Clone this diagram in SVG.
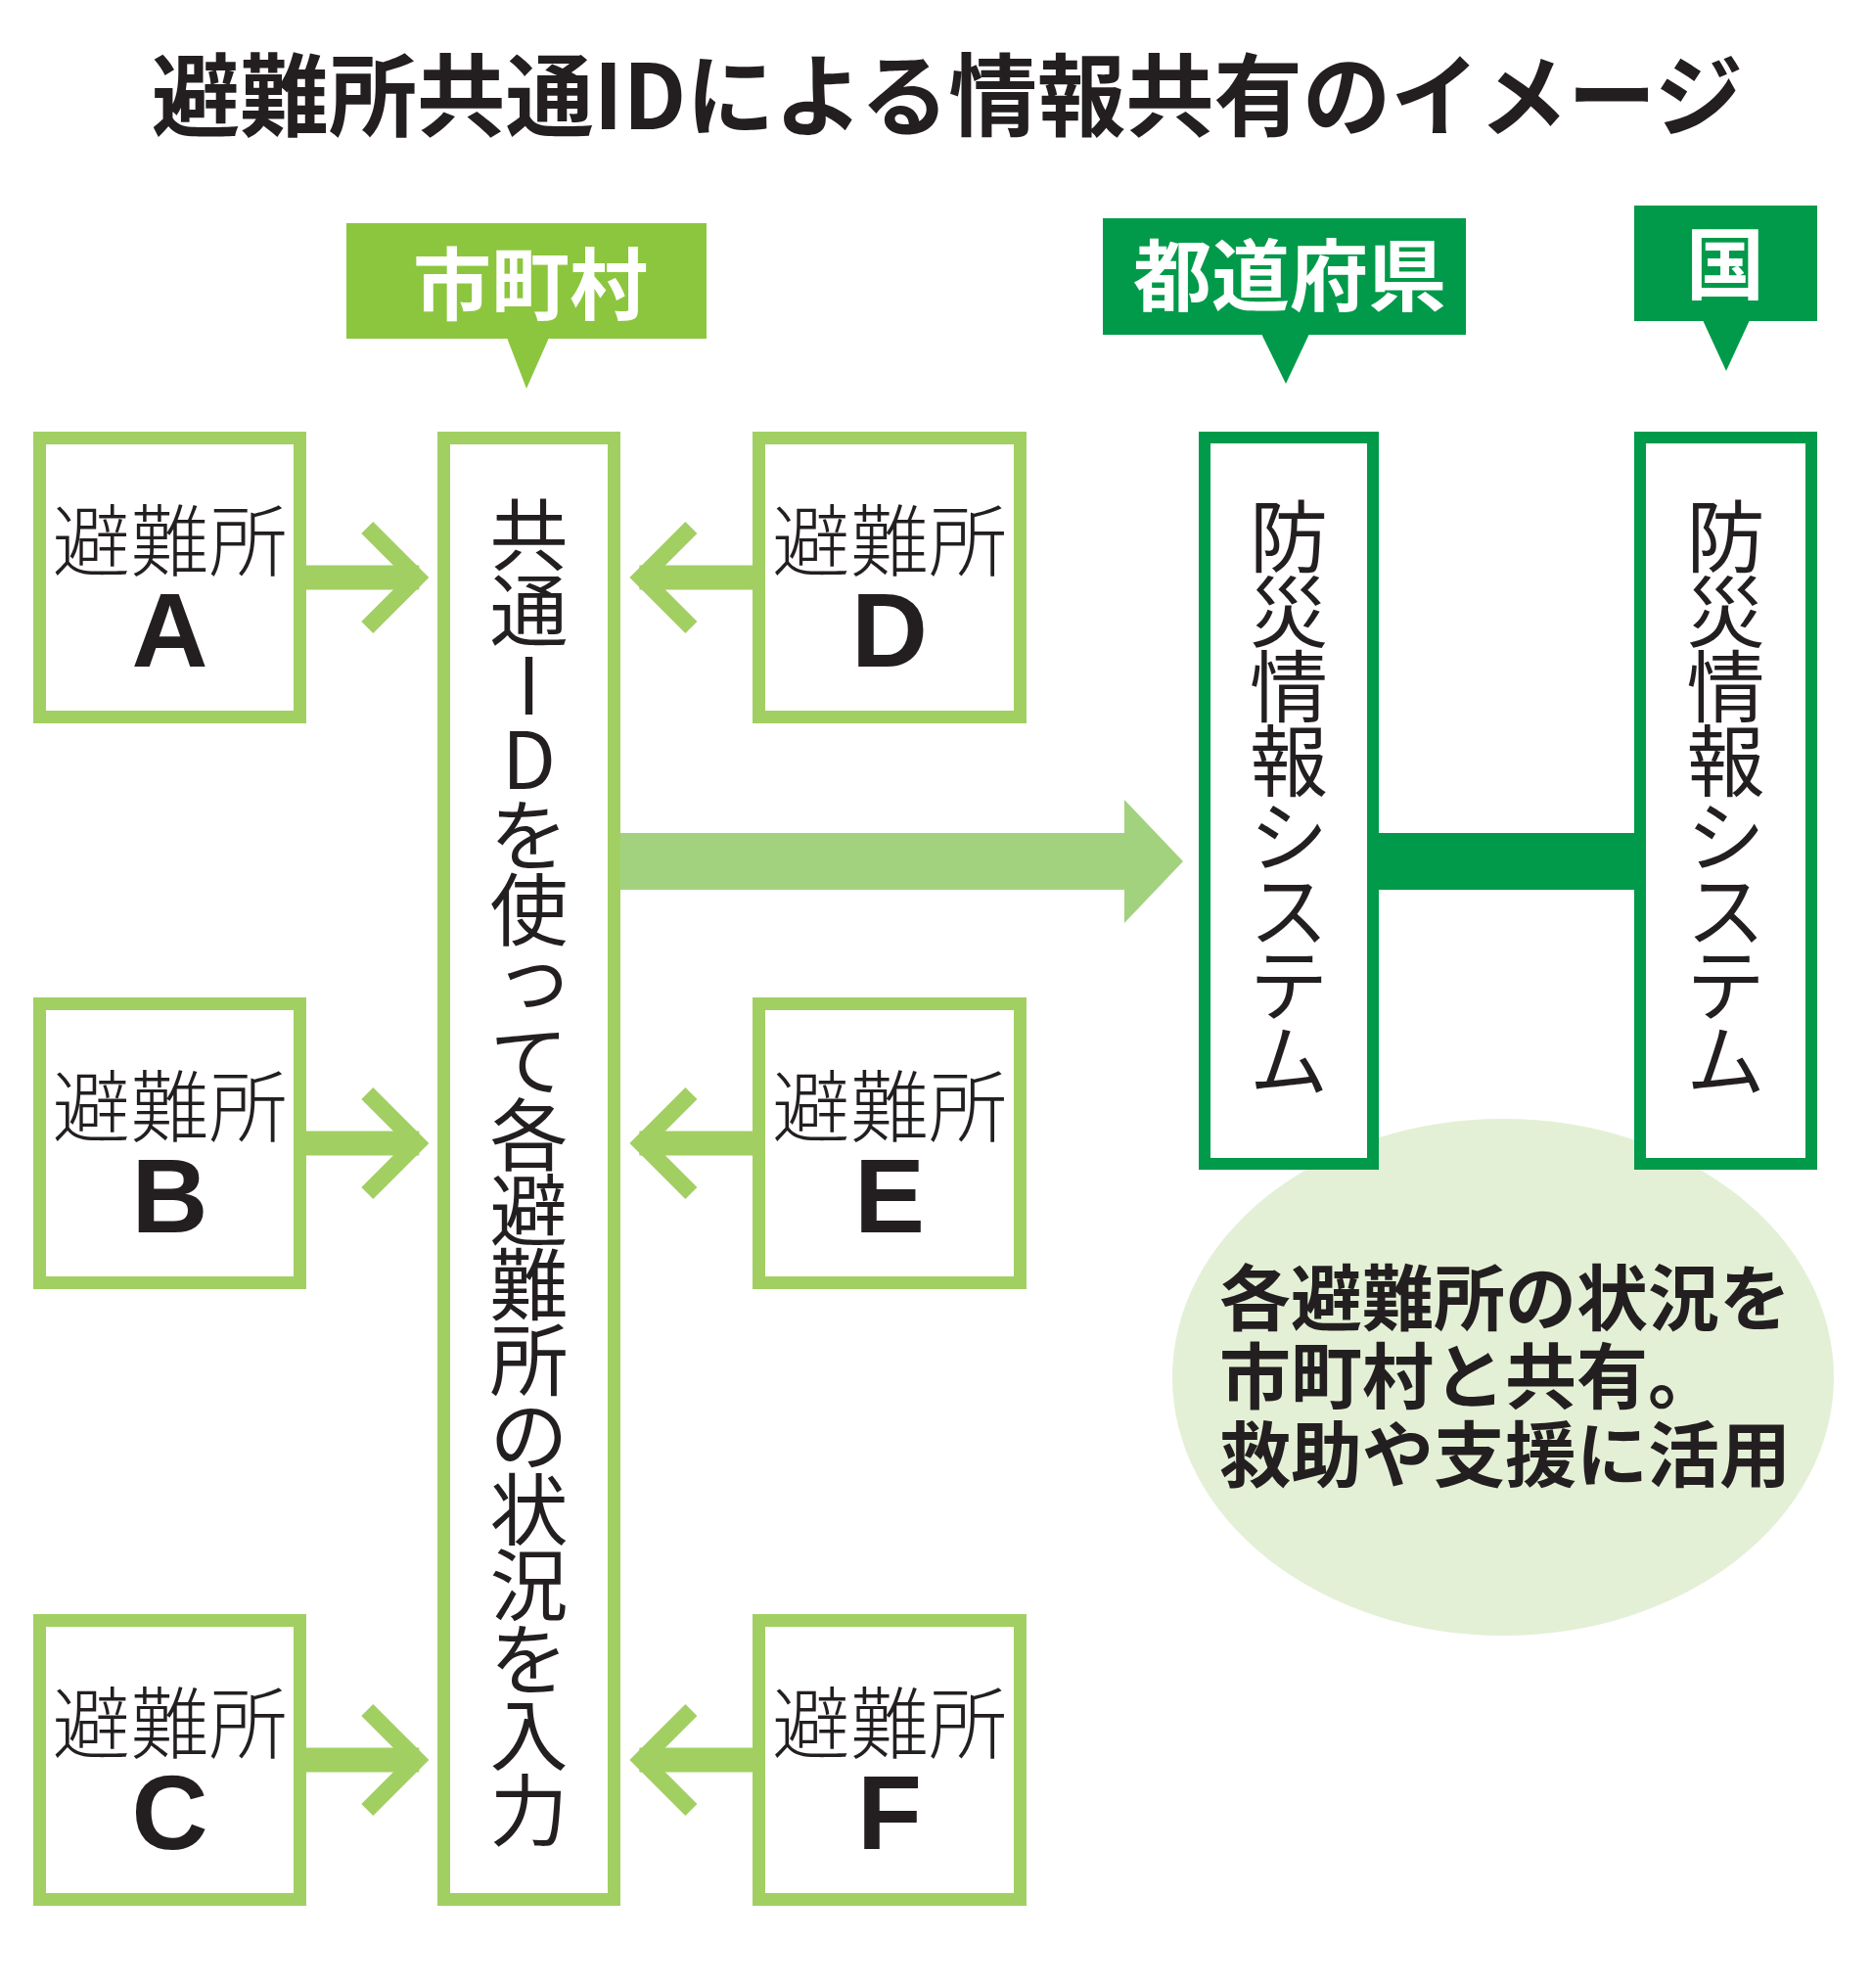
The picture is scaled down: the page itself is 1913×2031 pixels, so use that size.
<svg xmlns="http://www.w3.org/2000/svg" xmlns:xlink="http://www.w3.org/1999/xlink" width="1913" height="2031" viewBox="0 0 1913 2031">
<style>
.bg{fill:#ffffff}
.lbox{fill:#ffffff;stroke:#a2cf62;stroke-width:13}
.sbox{fill:#ffffff;stroke:#009a4a;stroke-width:12}
.lg{fill:#8cc63f}
.dg{fill:#009a4a}
.cj{font-family:'Noto Sans CJK JP','Noto Sans',sans-serif;fill:#231f20}
.lbl{font-family:'Noto Sans CJK JP','Noto Sans',sans-serif;font-weight:700;font-size:80px;fill:#ffffff;text-anchor:middle}
.shel{font-family:'Noto Sans CJK JP','Noto Sans',sans-serif;font-weight:300;font-size:80px;fill:#231f20;text-anchor:middle}
.let{font-family:'Liberation Sans',Arial,sans-serif;font-weight:700;font-size:108px;fill:#231f20;text-anchor:middle}
.vt{font-family:'Noto Sans CJK JP','Noto Sans',sans-serif;font-weight:400;font-size:80px;fill:#231f20;text-anchor:middle}
.note{font-family:'Noto Sans CJK JP','Noto Sans',serif;font-weight:700;font-size:73px;fill:#231f20}
.arw{fill:none;stroke:#a2cf62;stroke-width:17;stroke-linejoin:miter;stroke-miterlimit:10}
.arwf{fill:#a2cf62}
</style>
<defs>
<g id="arrowR">
<rect class="arwf" x="-114" y="-12.5" width="116" height="25"/>
<polyline class="arw" points="-51,-51 0,0 -51,51"/>
</g>
<g id="arrowL">
<rect class="arwf" x="-2" y="-12.5" width="116" height="25"/>
<polyline class="arw" points="51,-51 0,0 51,51"/>
</g>
</defs>
<rect class="bg" x="0" y="0" width="1913" height="2031"/>

<g id="title">
<text class="cj" x="155" y="132" font-size="92" font-weight="700" textLength="1626" lengthAdjust="spacingAndGlyphs">避難所共通IDによる情報共有のイメージ</text>
</g>

<g id="note">
<ellipse cx="1536" cy="1407" rx="338" ry="264" fill="#e3f0d6"/>
<text class="note"><tspan x="1246" y="1353">各避難所の状況を</tspan><tspan x="1246" y="1433">市町村と共有。</tspan><tspan x="1246" y="1513">救助や支援に活用</tspan></text>
</g>

<g id="connectors">
<use xlink:href="#arrowR" x="426.3" y="590"/>
<use xlink:href="#arrowR" x="426.3" y="1168"/>
<use xlink:href="#arrowR" x="426.3" y="1798"/>
<use xlink:href="#arrowL" x="655.4" y="590"/>
<use xlink:href="#arrowL" x="655.4" y="1168"/>
<use xlink:href="#arrowL" x="655.4" y="1798"/>
<polygon fill="#a3d27e" points="634,851 1149,851 1149,817 1209,880 1149,943 1149,909 634,909"/>
<rect class="dg" x="1409" y="851" width="261" height="58"/>
</g>

<g id="label-shichoson">
<rect class="lg" x="354" y="228" width="368" height="118"/>
<polygon class="lg" points="518,345 561,345 538,397"/>
<text class="lbl" x="542" y="320">市町村</text>
</g>
<g id="label-todofuken">
<rect class="dg" x="1127" y="223" width="371" height="119"/>
<polygon class="dg" points="1289,341 1338,341 1314,392"/>
<text class="lbl" x="1318" y="311">都道府県</text>
</g>
<g id="label-kuni">
<rect class="dg" x="1670" y="210" width="187" height="118"/>
<polygon class="dg" points="1740,327 1788,327 1764,379"/>
<text class="lbl" x="1763" y="299">国</text>
</g>

<g id="shelter-A">
<rect class="lbox" x="40.5" y="447.5" width="266" height="285"/>
<text class="shel" x="173.5" y="582">避難所</text>
<text class="let" x="173.5" y="681">A</text>
</g>
<g id="shelter-B">
<rect class="lbox" x="40.5" y="1025.5" width="266" height="285"/>
<text class="shel" x="173.5" y="1160">避難所</text>
<text class="let" x="173.5" y="1259">B</text>
</g>
<g id="shelter-C">
<rect class="lbox" x="40.5" y="1655.5" width="266" height="285"/>
<text class="shel" x="173.5" y="1790">避難所</text>
<text class="let" x="173.5" y="1889">C</text>
</g>
<g id="shelter-D">
<rect class="lbox" x="775.5" y="447.5" width="267" height="285"/>
<text class="shel" x="909" y="582">避難所</text>
<text class="let" x="909" y="681">D</text>
</g>
<g id="shelter-E">
<rect class="lbox" x="775.5" y="1025.5" width="267" height="285"/>
<text class="shel" x="909" y="1160">避難所</text>
<text class="let" x="909" y="1259">E</text>
</g>
<g id="shelter-F">
<rect class="lbox" x="775.5" y="1655.5" width="267" height="285"/>
<text class="shel" x="909" y="1790">避難所</text>
<text class="let" x="909" y="1889">F</text>
</g>

<g id="common-id">
<rect class="lbox" x="453.5" y="447.5" width="174" height="1493"/>
<text class="vt"><tspan x="540.5" y="576.4">共</tspan><tspan x="540.5" y="653">通</tspan><tspan x="540.5" y="729.6">I</tspan><tspan x="540.5" y="806.2">D</tspan><tspan x="540.5" y="882.8">を</tspan><tspan x="540.5" y="959.4">使</tspan><tspan x="546" y="1026">っ</tspan><tspan x="540.5" y="1112.6">て</tspan><tspan x="540.5" y="1189.2">各</tspan><tspan x="540.5" y="1265.8">避</tspan><tspan x="540.5" y="1342.4">難</tspan><tspan x="540.5" y="1419">所</tspan><tspan x="540.5" y="1495.6">の</tspan><tspan x="540.5" y="1572.2">状</tspan><tspan x="540.5" y="1648.8">況</tspan><tspan x="540.5" y="1725.4">を</tspan><tspan x="540.5" y="1802">入</tspan><tspan x="540.5" y="1878.6">力</tspan></text>
</g>

<g id="system-pref">
<rect class="sbox" x="1231" y="447" width="172" height="742"/>
<text class="vt"><tspan x="1317" y="578.4">防</tspan><tspan x="1317" y="654.7">災</tspan><tspan x="1317" y="731">情</tspan><tspan x="1317" y="807.3">報</tspan><tspan x="1317" y="883.6">シ</tspan><tspan x="1317" y="959.9">ス</tspan><tspan x="1317" y="1036.2">テ</tspan><tspan x="1317" y="1112.5">ム</tspan></text>
</g>
<g id="system-kuni">
<rect class="sbox" x="1676" y="447" width="175" height="742"/>
<text class="vt"><tspan x="1763.5" y="578.4">防</tspan><tspan x="1763.5" y="654.7">災</tspan><tspan x="1763.5" y="731">情</tspan><tspan x="1763.5" y="807.3">報</tspan><tspan x="1763.5" y="883.6">シ</tspan><tspan x="1763.5" y="959.9">ス</tspan><tspan x="1763.5" y="1036.2">テ</tspan><tspan x="1763.5" y="1112.5">ム</tspan></text>
</g>
</svg>
